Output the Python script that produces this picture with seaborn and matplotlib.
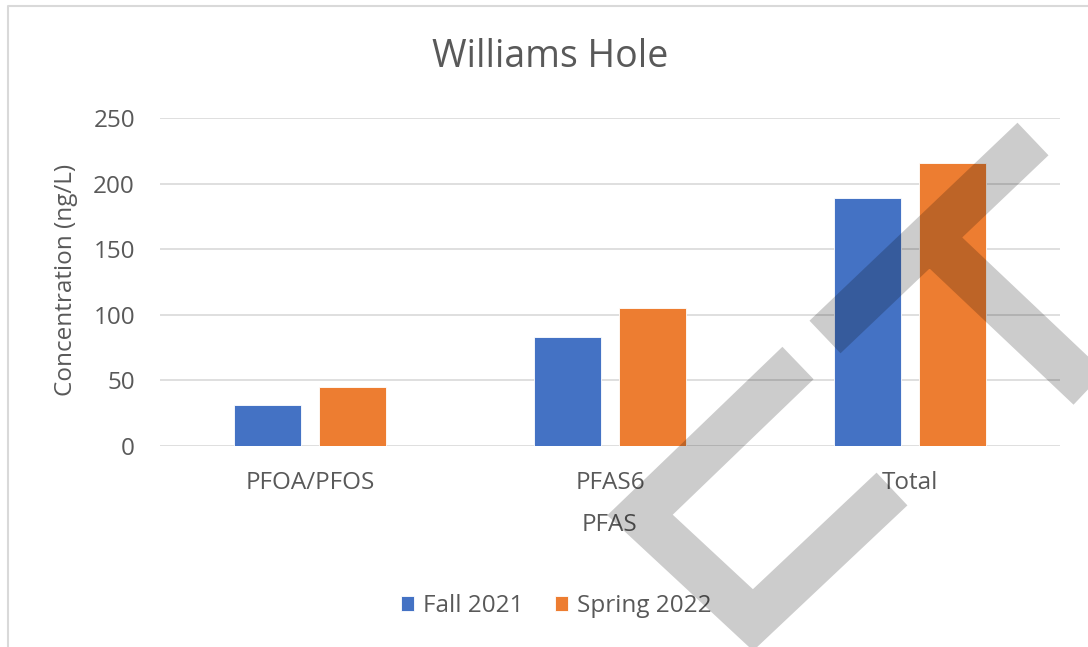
import matplotlib
matplotlib.use("Agg")
import matplotlib.pyplot as plt
import matplotlib.transforms as mtransforms
from matplotlib.path import Path
from matplotlib.patches import PathPatch
from matplotlib.lines import Line2D
import seaborn as sns
import pandas as pd

# ---- data ----
categories = ["PFOA/PFOS", "PFAS6", "Total"]
fall_2021 = [31, 83, 189]
spring_2022 = [45, 105, 216]
series_names = ["Fall 2021", "Spring 2022"]
y_ticks = [0, 50, 100, 150, 200, 250]

df = pd.DataFrame({
    "PFAS": categories * 2,
    "Concentration": fall_2021 + spring_2022,
    "Season": [series_names[0]] * len(categories) + [series_names[1]] * len(categories),
})

sns.set_theme(style="white")
plt.rcParams["font.family"] = ["Open Sans", "DejaVu Sans"]
TXT = "#595959"
W, H = 1088, 647
FS = 17.5

fig = plt.figure(figsize=(W / 100, H / 100), dpi=100)
ax = fig.add_axes([160 / W, 1 - 446 / H, 900 / W, 328 / H])

sns.barplot(data=df, x="PFAS", y="Concentration", hue="Season",
            palette=["#4472C4", "#ED7D31"], saturation=1,
            width=0.573, gap=0.22, ax=ax, legend=True,
            edgecolor="white", linewidth=0.6)

ax.set_ylim(0, 250)
ax.set_yticks(y_ticks)
ax.set_axisbelow(True)
ax.yaxis.grid(True, color="#d9d9d9", linewidth=1.2)
ax.xaxis.grid(False)
for s in ax.spines.values():
    s.set_visible(False)
ax.tick_params(axis="both", length=0, labelsize=FS, colors=TXT)
ax.tick_params(axis="y", pad=18)
ax.tick_params(axis="x", pad=18)
ax.set_xlabel("")
ax.set_ylabel("")

sns.move_legend(ax, "center", bbox_to_anchor=(556 / W, 1 - 606 / H),
                bbox_transform=fig.transFigure, ncol=2, frameon=False,
                title=None, fontsize=FS, handlelength=0.55, handleheight=0.55,
                handletextpad=0.35, columnspacing=1.3, labelcolor=TXT)

fig.text(550 / W, 1 - 57 / H, "Williams Hole", ha="center", va="center",
         fontsize=27, color=TXT)
fig.text(66 / W, 1 - 280 / H, "Concentration (ng/L)", ha="center", va="center",
         rotation=90, fontsize=FS, color=TXT)
fig.text(609 / W, 1 - 525 / H, "PFAS", ha="center", va="center",
         fontsize=FS, color=TXT)

# pixel-coordinate transform (origin top-left)
T = mtransforms.Affine2D().scale(1 / W, -1 / H).translate(0, 1) + fig.transFigure

# chart border
fig.add_artist(Line2D([8, 8, 1100], [700, 6, 6], color="#d9d9d9", linewidth=1.5,
                      transform=T))

# watermark
verts = [(798, 363), (640, 515), (753, 620), (892, 489),
         (825, 337), (1033, 139),
         (929, 237), (1170, 465)]
codes = [Path.MOVETO, Path.LINETO, Path.LINETO, Path.LINETO,
         Path.MOVETO, Path.LINETO,
         Path.MOVETO, Path.LINETO]
wm = PathPatch(Path(verts, codes), facecolor="none", edgecolor=(0, 0, 0, 0.2),
               linewidth=45 * 0.72, capstyle="butt", joinstyle="miter",
               transform=T, zorder=10)
fig.add_artist(wm)

fig.savefig("out.png", dpi=100)
